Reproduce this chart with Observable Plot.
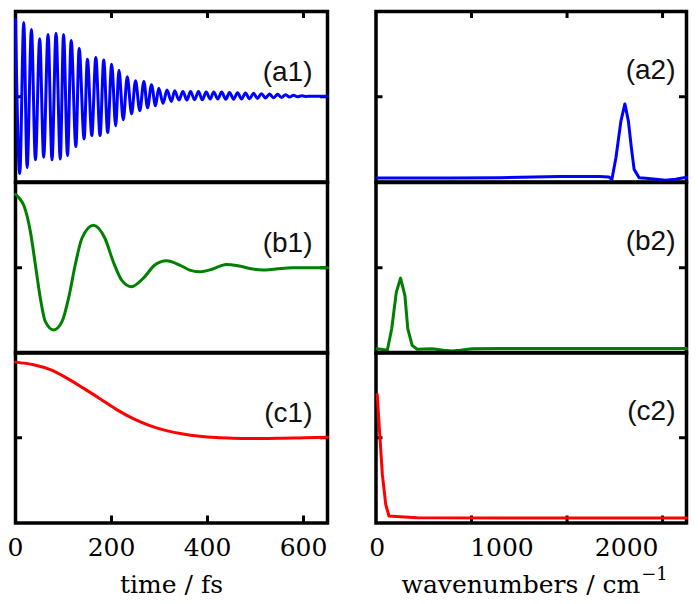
<!DOCTYPE html>
<html><head><meta charset="utf-8">
<script src="https://cdn.jsdelivr.net/npm/d3@7"></script>
<script src="https://cdn.jsdelivr.net/npm/@observablehq/plot@0.6"></script>
<style>
body{margin:0;background:#fff;}
#fig{position:relative;width:698px;height:604px;background:#fff;overflow:hidden;}
#fig svg{position:absolute;background:transparent;}
</style></head><body><div id="fig"></div>
<script>
// ---- time-domain signals (fs) ----
const a1Time = [0, 8.9, 17.2, 24.2, 33.2, 41.5, 50.4, 58.7, 67.8, 76.1, 84.4, 93.3, 100.1, 108.4, 116, 125.8, 132.6, 143, 149.8, 159, 167.3, 176.2, 183.8, 192.1, 200.4, 208.7, 215.5, 224.5, 232.8, 241.9, 250, 259, 267.4, 275, 283.3, 291.6, 298.4, 307.4, 315.6, 324.8, 331.6, 340.5, 348.8, 357, 364.8, 373, 381.3, 389, 397.3, 405.6, 413, 421.4, 429.6, 438, 446, 454.5, 462.6, 471, 479, 487.5, 496, 504, 512.5, 521, 529, 537.5, 546, 554, 562.5, 571, 579, 587.5, 596, 604, 620, 650];
const a1Value = [0.91, -0.90, 0.87, -0.83, 0.79, -0.74, 0.68, -0.71, 0.73, -0.74, 0.745, -0.73, 0.73, -0.69, 0.66, -0.585, 0.565, -0.495, 0.44, -0.456, 0.46, -0.456, 0.43, -0.42, 0.38, -0.34, 0.31, -0.27, 0.234, -0.20, 0.187, -0.164, 0.18, -0.13, 0.14, -0.105, 0.10, -0.078, 0.078, -0.055, 0.07, -0.039, 0.062, -0.039, 0.062, -0.035, 0.062, -0.035, 0.055, -0.027, 0.055, -0.027, 0.055, -0.03, 0.05, -0.028, 0.047, -0.026, 0.044, -0.024, 0.04, -0.02, 0.036, -0.016, 0.032, -0.012, 0.028, -0.008, 0.024, -0.004, 0.018, 0.0, 0.012, 0.004, 0.007, 0.007];

const b1Time = [0, 8, 17.2, 31.1, 41.5, 51.8, 62.2, 79.4, 96.8, 110.5, 124.4, 138.2, 162.3, 186.5, 203.7, 221.1, 241.9, 265.9, 290.2, 314.4, 342, 362.7, 383.4, 411, 438.8, 466.3, 493.9, 514.6, 542.4, 576.8, 611.4, 650];
const b1Value = [0.86, 0.815, 0.733, 0.421, 0.032, -0.359, -0.632, -0.729, -0.632, -0.359, 0.032, 0.343, 0.50, 0.343, 0.07, -0.144, -0.222, -0.125, 0.032, 0.082, 0.032, -0.027, -0.047, -0.015, 0.039, 0.02, -0.015, -0.027, -0.015, 0, 0, 0];

const c1Time = [0, 38, 72.5, 107, 141.5, 176, 210.8, 245.3, 279.8, 314.4, 349, 383.4, 418, 452.5, 487, 522, 556, 591, 625.5, 650];
const c1Value = [0.887, 0.856, 0.798, 0.70, 0.582, 0.458, 0.33, 0.225, 0.143, 0.084, 0.044, 0.018, 0.002, -0.006, -0.009, -0.009, -0.006, -0.002, 0.002, 0.006];

// ---- spectra (cm^-1) ----
const a2Wave = [0, 586, 984, 1462, 1781, 1857, 1882, 1914, 1954, 1986, 2014, 2038, 2060, 2100, 2153, 2233, 2312, 2392, 2458, 2480];
const a2Value = [0.023, 0.023, 0.025, 0.032, 0.032, 0.029, 0.016, 0.142, 0.357, 0.458, 0.357, 0.20, 0.074, 0.025, 0.022, 0.016, 0.01, 0.016, 0.025, 0.027];

const b2Wave = [0, 81, 116, 153, 187, 222, 245, 280, 320, 440, 532, 599, 665, 759, 984, 1781, 2480];
const b2Value = [0.025, 0.016, 0.142, 0.357, 0.439, 0.337, 0.142, 0.045, 0.022, 0.025, 0.016, 0.012, 0.016, 0.025, 0.026, 0.026, 0.026];

const c2Wave = [0, 22, 41, 68, 94, 187, 320, 984, 2480];
const c2Value = [0.753, 0.498, 0.285, 0.109, 0.041, 0.037, 0.031, 0.029, 0.029];

// ---- labels & ticks ----
const panelLabels = [["(a1)", "(b1)", "(c1)"], ["(a2)", "(b2)", "(c2)"]];
const timeTickMarks = [200, 400, 600];
const timeTickLabels = [0, 200, 400, 600];
const waveTickMarks = [756, 1522, 2288];
const waveTickLabels = [0, 1000, 2000];
const timeMidTick = [0];
const waveMidTick = [0.5];
const xTitles = ["time / fs", "wavenumbers / cm"];
const xTitleSup = ["", "\u22121"];
const lineColors = ["#0000ff", "#008000", "#ff0000"];

const series = [
  [[a1Time, a1Value], [b1Time, b1Value], [c1Time, c1Value]],
  [[a2Wave, a2Value], [b2Wave, b2Value], [c2Wave, c2Value]]
];

const SERIF = "DejaVu Serif";
const SANS = "Liberation Sans";

const cols = [
  {left: 11, mL: 4, width: 320, xDomain: [0, 650], yDomain: [-1, 1], ticks: timeTickMarks, labels: timeTickLabels, mid: timeMidTick, curve: "monotone-x", labDx: -15, labBase: 69},
  {left: 371, mL: 4.5, width: 319, xDomain: [-10, 2480], yDomain: [0, 1], ticks: waveTickMarks, labels: waveTickLabels, mid: waveMidTick, curve: "linear", labDx: -11, labBase: 67}
];
const rows = [
  {top: 7, height: 178.5, mB: 4},
  {top: 177.5, height: 178.5, mB: 4},
  {top: 348, height: 256, mB: 81.5}
];
const mT = 4, mR = 4, FH = 170.5;
const TF = 25, SF = 18;

const fig = document.getElementById("fig");

cols.forEach((col, ci) => {
  const FW = col.width - col.mL - mR;
  rows.forEach((row, ri) => {
    const [xs, ys] = series[ci][ri];
    const data = xs.map((x, i) => ({x, y: ys[i]}));
    const marks = [
      Plot.frame({stroke: "black", strokeWidth: 3.5}),
      Plot.ruleY(col.mid, {y: d => d, insetRight: FW - 7, stroke: "black", strokeWidth: 3}),
      Plot.ruleY(col.mid, {y: d => d, insetLeft: FW - 7, stroke: "black", strokeWidth: 3})
    ];
    if (ri === 0) marks.push(Plot.ruleX(col.ticks, {x: d => d, insetBottom: FH - 7, stroke: "black", strokeWidth: 3}));
    if (ri === 2) {
      marks.push(Plot.ruleX(col.ticks, {x: d => d, insetTop: FH - 7, stroke: "black", strokeWidth: 3}));
      marks.push(Plot.axisX(col.labels, {anchor: "bottom", tickSize: 0, tickPadding: 15, tickFormat: d => String(d),
        fontSize: TF, fontFamily: SERIF, fill: "black", label: null}));
      if (xTitleSup[ci]) {
        marks.push(Plot.text([xTitles[ci]], {frameAnchor: "bottom", dx: 109, dy: 52.5, lineAnchor: "top", textAnchor: "end",
          fontSize: TF, fontFamily: SERIF, fill: "black"}));
        marks.push(Plot.text([xTitleSup[ci]], {frameAnchor: "bottom", dx: 110, dy: 44.5, lineAnchor: "top", textAnchor: "start",
          fontSize: SF, fontFamily: SERIF, fill: "black"}));
      } else {
        marks.push(Plot.text([xTitles[ci]], {frameAnchor: "bottom", dy: 52.5, lineAnchor: "top", textAnchor: "middle",
          fontSize: TF, fontFamily: SERIF, fill: "black"}));
      }
    }
    marks.push(Plot.line(data, {x: "x", y: "y", stroke: lineColors[ri], strokeWidth: 3, curve: col.curve}));
    marks.push(Plot.text([panelLabels[ci][ri]], {frameAnchor: "top-right", dx: col.labDx, dy: col.labBase - 0.71 * 28,
      lineAnchor: "top", textAnchor: "end", fontSize: 28, fontFamily: SANS, fill: "#111"}));

    const svg = Plot.plot({
      width: col.width,
      height: row.height,
      marginTop: mT, marginBottom: row.mB, marginLeft: col.mL, marginRight: mR,
      x: ri === 2 ? {domain: col.xDomain} : {domain: col.xDomain, axis: null},
      y: {domain: col.yDomain, axis: null},
      style: {background: "transparent", overflow: "visible"},
      marks
    });
    svg.style.left = col.left + "px";
    svg.style.top = row.top + "px";
    fig.appendChild(svg);
  });
});
</script>
</body></html>
